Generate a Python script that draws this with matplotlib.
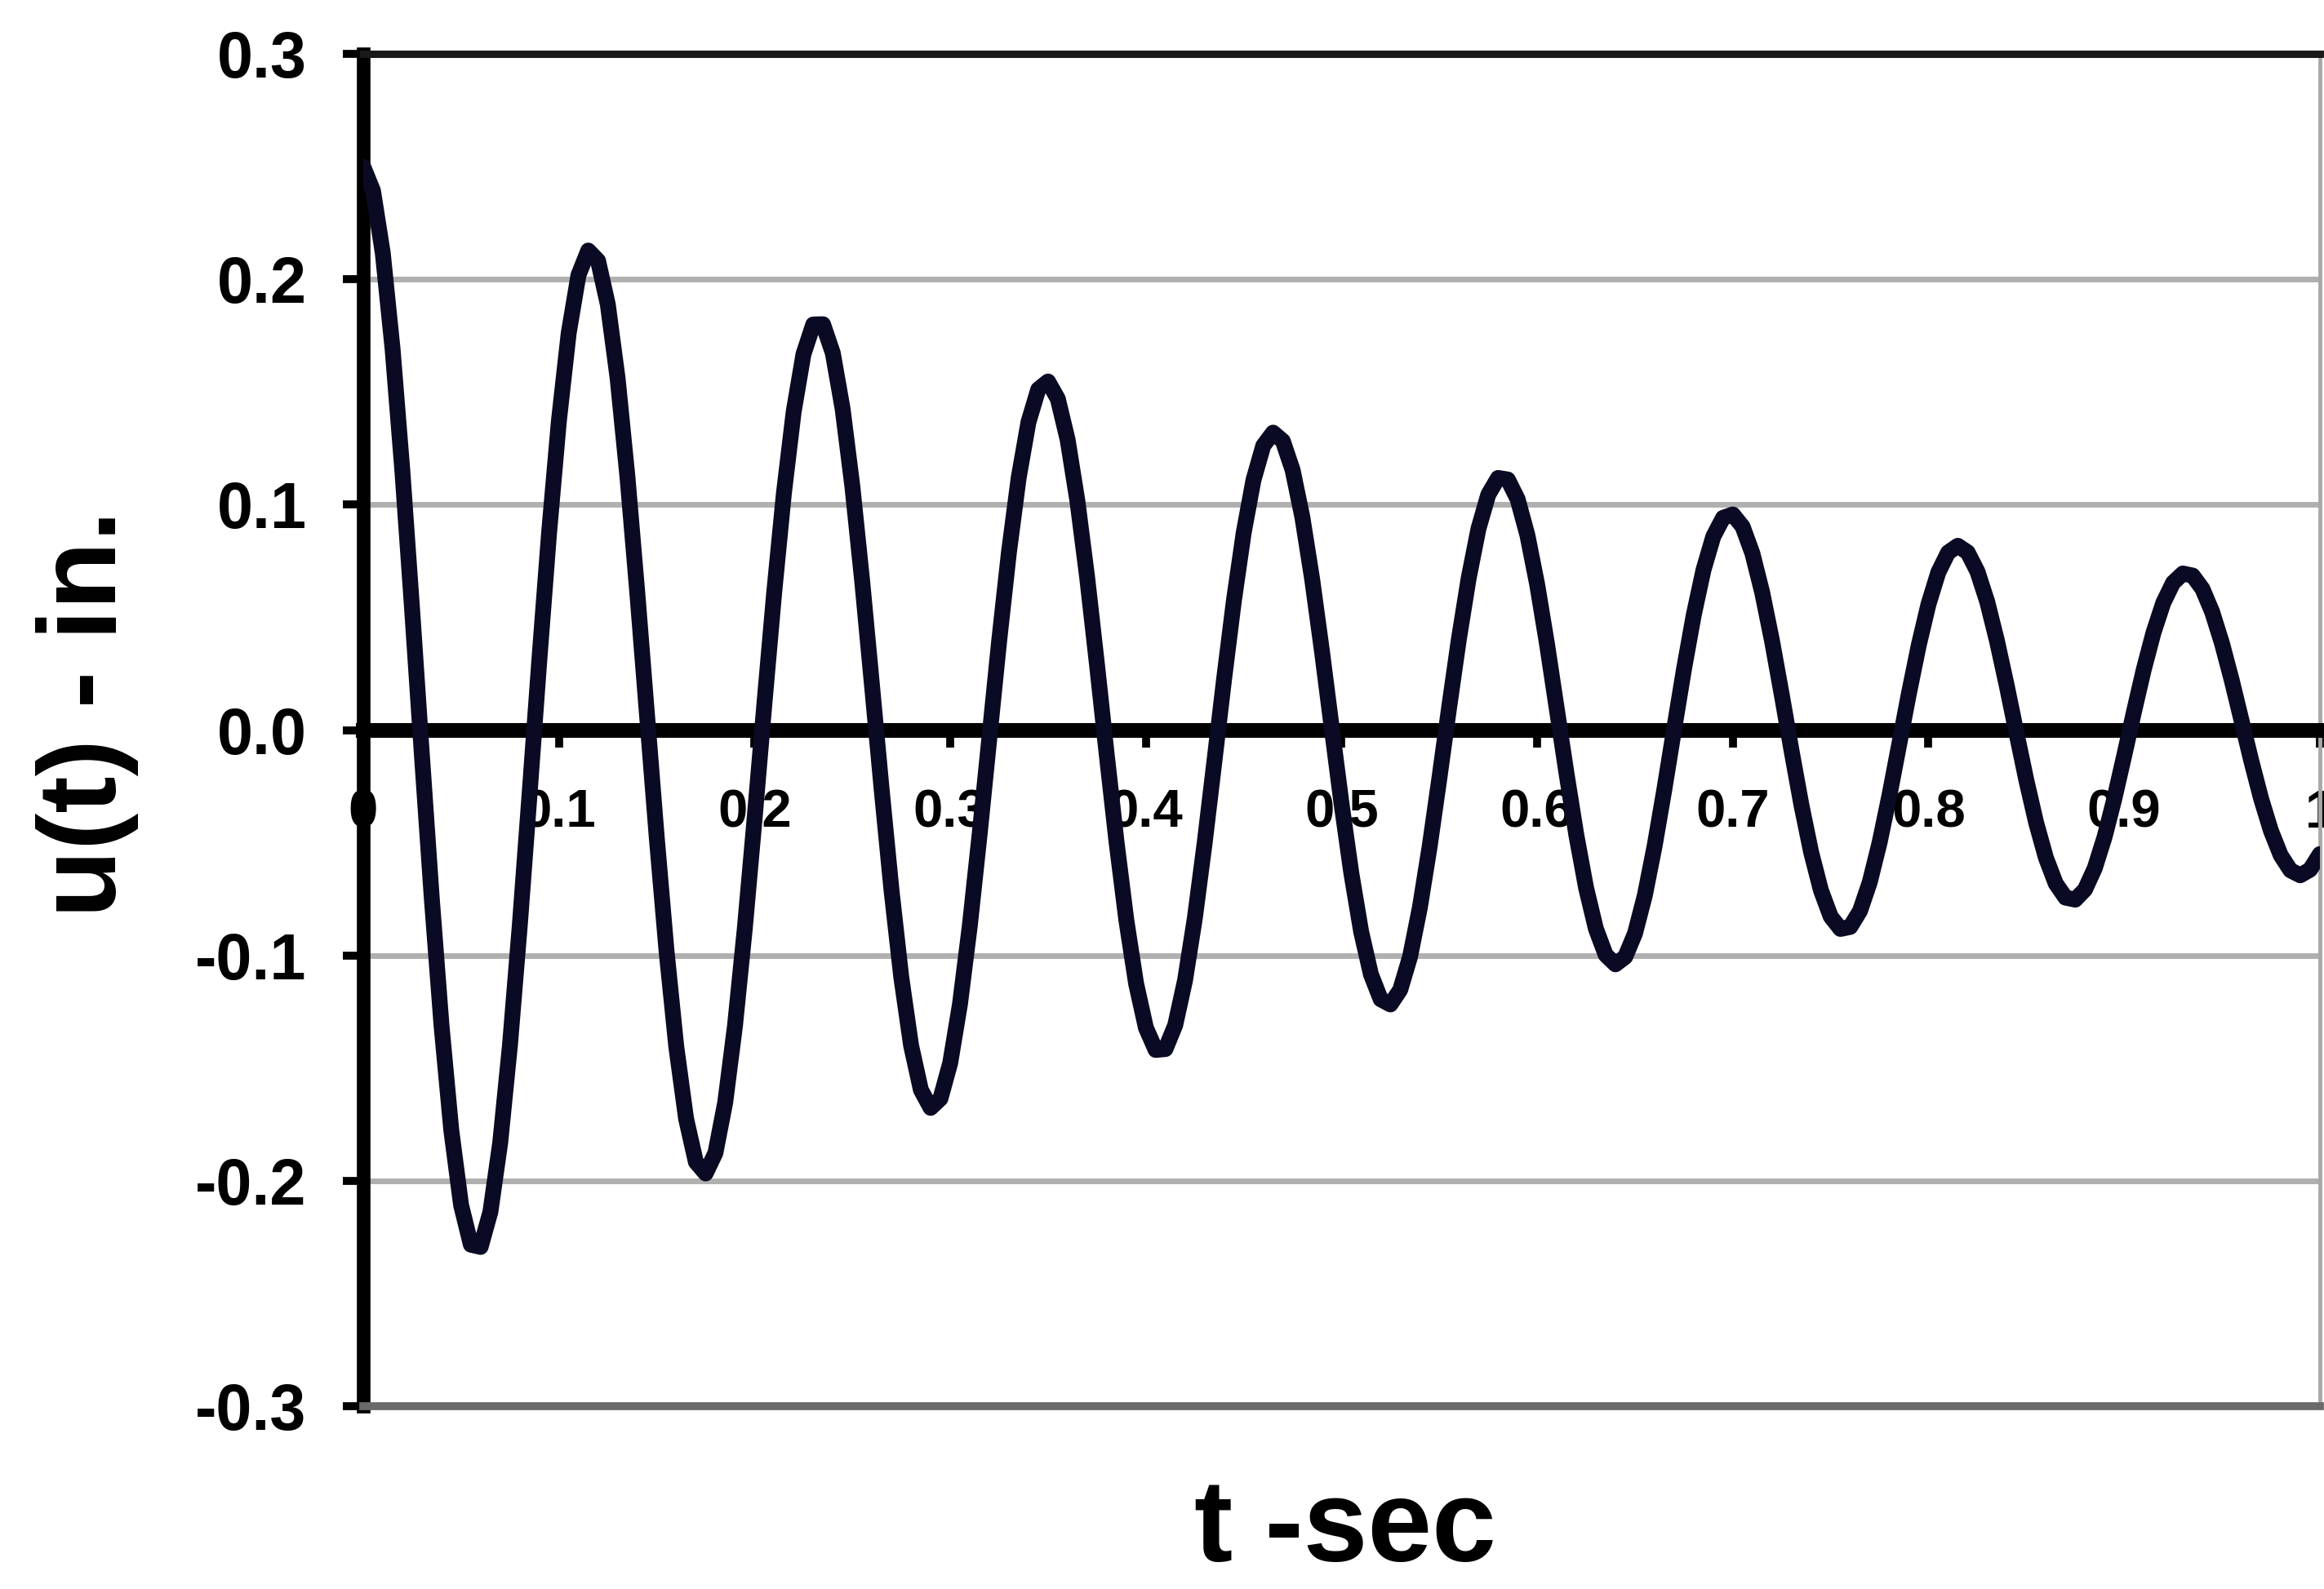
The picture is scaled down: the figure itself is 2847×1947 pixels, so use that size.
import numpy as np
import matplotlib
matplotlib.use('Agg')
import matplotlib.pyplot as plt

# displacement u(t) in inches, every 0.005 s from t = 0 to 1 s
t_step = 0.005
u_in = [
    0.2500, 0.2393, 0.2116, 0.1691, 0.1150, 0.0533, -0.0113, -0.0742, -0.1310, -0.1775,
    -0.2107, -0.2283, -0.2293, -0.2137, -0.1831, -0.1397, -0.0868, -0.0285, 0.0311, 0.0877,
    0.1372, 0.1761, 0.2019, 0.2128, 0.2083, 0.1889, 0.1562, 0.1127, 0.0617, 0.0070,
    -0.0475, -0.0979, -0.1405, -0.1724, -0.1916, -0.1967, -0.1876, -0.1652, -0.1312, -0.0882,
    -0.0395, 0.0114, 0.0607, 0.1051, 0.1413, 0.1668, 0.1800, 0.1801, 0.1673, 0.1426,
    0.1081, 0.0662, 0.0201, -0.0267, -0.0711, -0.1097, -0.1399, -0.1596, -0.1676, -0.1635,
    -0.1477, -0.1215, -0.0869, -0.0465, -0.0034, 0.0394, 0.0788, 0.1120, 0.1367, 0.1512,
    0.1547, 0.1470, 0.1289, 0.1017, 0.0677, 0.0292, -0.0109, -0.0496, -0.0842, -0.1124,
    -0.1320, -0.1419, -0.1415, -0.1309, -0.1111, -0.0836, -0.0504, -0.0140, 0.0228, 0.0575,
    0.0876, 0.1110, 0.1262, 0.1320, 0.1283, 0.1154, 0.0944, 0.0669, 0.0350, 0.0010,
    -0.0326, -0.0634, -0.0893, -0.1083, -0.1194, -0.1217, -0.1152, -0.1006, -0.0789, -0.0519,
    -0.0214, 0.0101, 0.0405, 0.0675, 0.0894, 0.1045, 0.1119, 0.1112, 0.1025, 0.0865,
    0.0646, 0.0383, 0.0096, -0.0193, -0.0465, -0.0700, -0.0881, -0.0997, -0.1039, -0.1006,
    -0.0902, -0.0734, -0.0515, -0.0263, 0.0005, 0.0269, 0.0510, 0.0711, 0.0859, 0.0942,
    0.0957, 0.0903, 0.0784, 0.0611, 0.0397, 0.0157, -0.0091, -0.0330, -0.0541, -0.0710,
    -0.0827, -0.0882, -0.0873, -0.0802, -0.0674, -0.0499, -0.0291, -0.0065, 0.0163, 0.0376,
    0.0559, 0.0700, 0.0788, 0.0818, 0.0789, 0.0704, 0.0570, 0.0396, 0.0197, -0.0014,
    -0.0222, -0.0410, -0.0566, -0.0680, -0.0743, -0.0752, -0.0707, -0.0612, -0.0474, -0.0304,
    -0.0114, 0.0081, 0.0268, 0.0433, 0.0565, 0.0654, 0.0695, 0.0686, 0.0627, 0.0524,
    0.0385, 0.0221, 0.0042, -0.0137, -0.0304, -0.0446, -0.0555, -0.0622, -0.0644, -0.0619,
    -0.0550,
]
t_sec = np.arange(len(u_in)) * t_step

x_ticks = [0, 0.1, 0.2, 0.3, 0.4, 0.5, 0.6, 0.7, 0.8, 0.9, 1.0]
x_tick_labels = ['0', '0.1', '0.2', '0.3', '0.4', '0.5', '0.6', '0.7', '0.8', '0.9', '1']
y_ticks = [-0.3, -0.2, -0.1, 0.0, 0.1, 0.2, 0.3]
y_tick_labels = ['-0.3', '-0.2', '-0.1', '0.0', '0.1', '0.2', '0.3']

plt.rcParams['font.family'] = ['Liberation Sans', 'DejaVu Sans']
plt.rcParams['font.weight'] = 'bold'

fig = plt.figure(figsize=(28.47, 19.47), dpi=100)
ax = fig.add_axes([0.1563, 0.1150, 0.8419, 0.8510])

# the response curve
ax.plot(t_sec, u_in, color='#0a0a24', linewidth=14, zorder=3,
        solid_joinstyle='round', solid_capstyle='round')

ax.set_xlim(0, 1)
ax.set_ylim(-0.3, 0.3)

# gray horizontal gridlines
ax.set_axisbelow(True)
ax.yaxis.grid(True, color='#b0b0b0', linewidth=5)

# x axis sits on u = 0, frame around the plot area
ax.spines['bottom'].set_position(('data', 0))
ax.spines['bottom'].set_linewidth(13)
ax.spines['bottom'].set_color('black')
ax.spines['left'].set_linewidth(12)
ax.spines['left'].set_color('black')
ax.spines['top'].set_linewidth(6.5)
ax.spines['top'].set_color('#1a1a1a')
ax.spines['right'].set_linewidth(3.5)
ax.spines['right'].set_color('#a8a8a8')
ax.axhline(-0.3, color='#6a6a6a', linewidth=7, clip_on=False, zorder=2.6)

ax.xaxis.set_ticks_position('bottom')
ax.yaxis.set_ticks_position('left')
ax.set_xticks(x_ticks)
ax.set_xticklabels(x_tick_labels)
ax.set_yticks(y_ticks)
ax.set_yticklabels(y_tick_labels)
ax.tick_params(axis='x', direction='out', length=15, width=7, pad=37, labelsize=47)
ax.tick_params(axis='y', direction='out', length=18, width=7, pad=32, labelsize=57)

# axis titles
fig.text(0.0375, 0.5506, 'u(t) - in.', rotation=90, ha='center', va='center',
         fontsize=98, fontweight='bold')
fig.text(0.5788, 0.002, 't -sec', ha='center', va='bottom',
         fontsize=102, fontweight='bold')

plt.savefig('out.png', dpi=100)
